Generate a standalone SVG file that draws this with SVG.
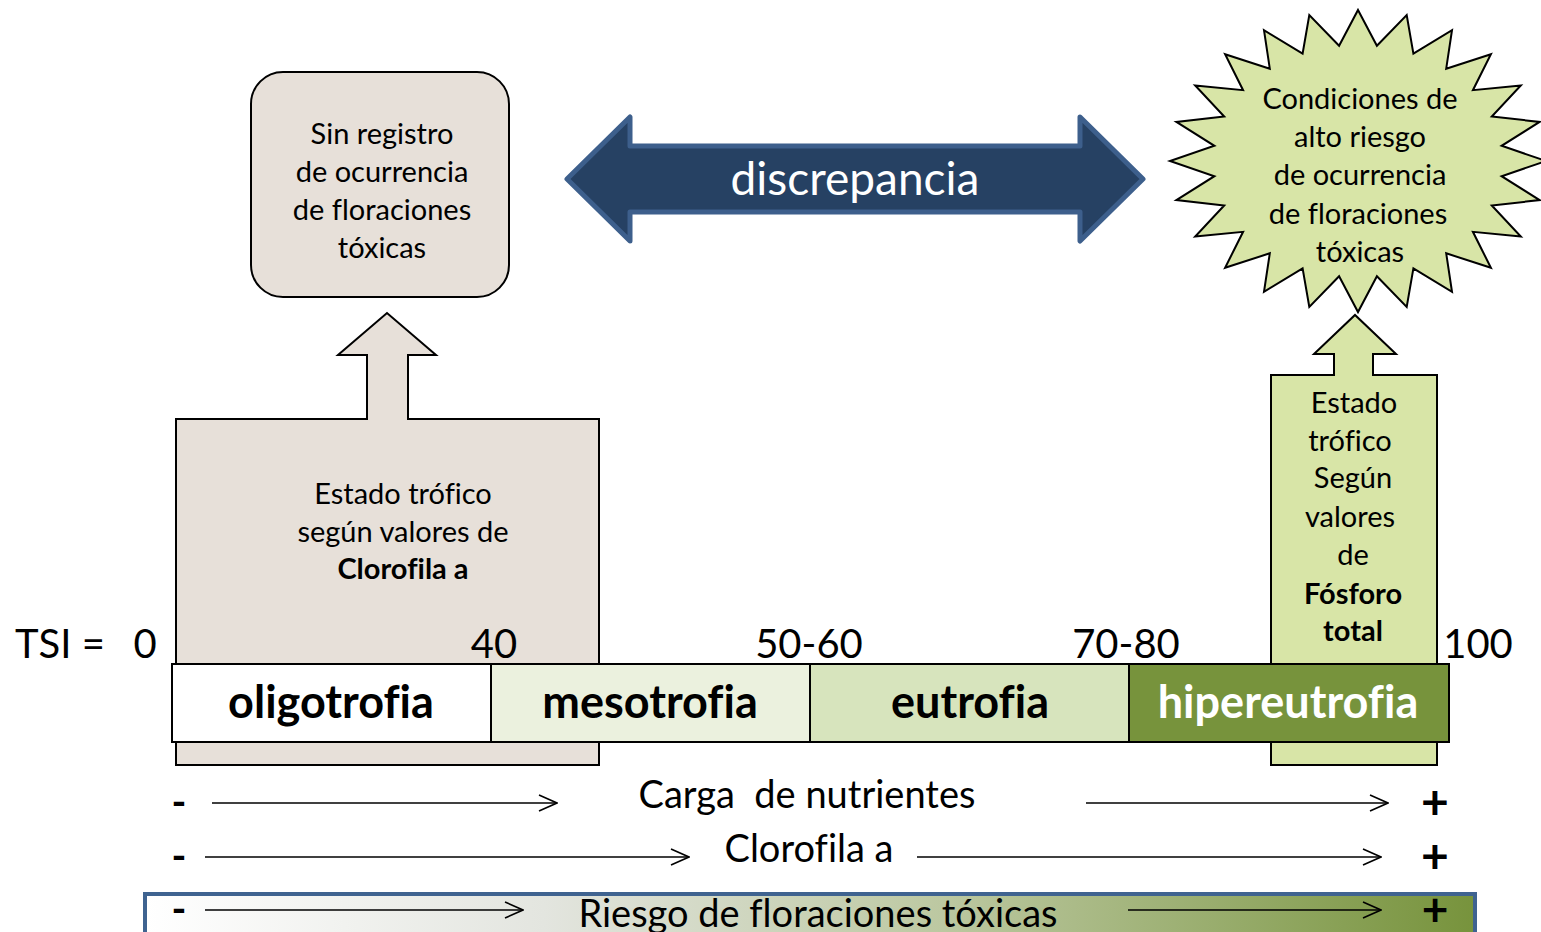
<svg xmlns="http://www.w3.org/2000/svg" width="1541" height="932" viewBox="0 0 1541 932">
<style>
text{font-family:Lato,"Open Sans",sans-serif;fill:#000;font-variant-ligatures:none;font-feature-settings:"liga" 0;white-space:pre}
.box{font-size:29px;text-anchor:middle}
.b{font-weight:bold}
.num{font-size:40px}
.lvl{font-size:45px;font-weight:bold;text-anchor:middle}
.row{font-size:38px;text-anchor:middle}
.sign{font-weight:bold;text-anchor:middle}
.ln{stroke:#000;stroke-width:1.6;fill:none}
.seg{stroke:#000;stroke-width:2}
</style>
<defs>
<marker id="chev" viewBox="0 0 20 20" refX="19" refY="10" markerWidth="20" markerHeight="20" markerUnits="userSpaceOnUse" orient="auto">
<path d="M1,2 L19,10 L1,18" fill="none" stroke="#000" stroke-width="1.6"/>
</marker>
<linearGradient id="risk" x1="0" y1="0" x2="1" y2="0">
<stop offset="0" stop-color="#FFFFFF"/>
<stop offset="0.3" stop-color="#E3E5DF"/>
<stop offset="0.6" stop-color="#BCC8A1"/>
<stop offset="1" stop-color="#77933C"/>
</linearGradient>
</defs>

<g id="clorofila-box">
<path d="M176,419 H367 V355 H338 L387,313 L436,355 H408 V419 H599 V765 H176 Z" fill="#E7E0D9" stroke="#000" stroke-width="2"/>
<text class="box" x="403" y="504">Estado trófico</text>
<text class="box" x="403" y="542">según valores de</text>
<text class="box b" x="403" y="579">Clorofila a</text>
</g>

<g id="fosforo-box">
<path d="M1271,375 H1334 V354 H1314 L1355,315 L1396,354 H1373 V375 H1437 V765 H1271 Z" fill="#D8E5A7" stroke="#000" stroke-width="2"/>
<text class="box" x="1354" y="413">Estado</text>
<text class="box" x="1350" y="451">trófico</text>
<text class="box" x="1353" y="488">Según</text>
<text class="box" x="1350" y="527">valores</text>
<text class="box" x="1353" y="565">de</text>
<text class="box b" x="1353" y="604">Fósforo</text>
<text class="box b" x="1353" y="641">total</text>
</g>

<g id="sin-registro">
<rect x="251" y="72" width="258" height="225" rx="32" fill="#E7E0D9" stroke="#000" stroke-width="2"/>
<text class="box" x="382" y="144">Sin registro</text>
<text class="box" x="382" y="182">de ocurrencia</text>
<text class="box" x="382" y="220">de floraciones</text>
<text class="box" x="382" y="258">tóxicas</text>
</g>

<g id="discrepancia">
<polygon points="567,179 630,117 630,146 1080,146 1080,117 1143,179 1080,241 1080,212 630,212 630,241" fill="#264163" stroke="#3D5F8C" stroke-width="5" stroke-linejoin="round"/>
<text x="855" y="195" font-size="46" text-anchor="middle" style="fill:#FFFFFF">discrepancia</text>
</g>

<g id="alto-riesgo">
<polygon points="1358,10 1376.9,45.7 1406.7,15.1 1413.4,53.6 1452,30.2 1446.2,68.7 1490.9,54.2 1472.9,90.2 1520.8,85.5 1491.8,116.5 1539.6,121.9 1501.6,145.8 1546,161 1501.6,176.2 1539.6,200.1 1491.8,205.5 1520.8,236.5 1472.9,231.8 1490.9,267.8 1446.2,253.3 1452,291.8 1413.4,268.4 1406.7,306.9 1376.9,276.3 1358,312 1339.1,276.3 1309.3,306.9 1302.6,268.4 1264,291.8 1269.8,253.3 1225.1,267.8 1243.1,231.8 1195.2,236.5 1224.2,205.5 1176.4,200.1 1214.4,176.2 1170,161 1214.4,145.8 1176.4,121.9 1224.2,116.5 1195.2,85.5 1243.1,90.2 1225.1,54.2 1269.8,68.7 1264,30.2 1302.6,53.6 1309.3,15.1 1339.1,45.7" fill="#D8E5A7" stroke="#000" stroke-width="2"/>
<text class="box" x="1360" y="109">Condiciones de</text>
<text class="box" x="1360" y="147">alto riesgo</text>
<text class="box" x="1360" y="185">de ocurrencia</text>
<text class="box" x="1358" y="224">de floraciones</text>
<text class="box" x="1360" y="262">tóxicas</text>
</g>

<g id="escala">
<rect class="seg" x="172" y="664" width="319" height="78" fill="#FFFFFF"/>
<rect class="seg" x="491" y="664" width="319" height="78" fill="#EBF1DE"/>
<rect class="seg" x="810" y="664" width="319" height="78" fill="#D7E4BD"/>
<rect class="seg" x="1129" y="664" width="320" height="78" fill="#77933C"/>
<text class="lvl" x="331" y="718">oligotrofia</text>
<text class="lvl" x="650" y="718">mesotrofia</text>
<text class="lvl" x="970" y="718">eutrofia</text>
<text class="lvl" x="1288" y="718" style="fill:#FFFFFF">hipereutrofia</text>
<text class="num" x="15" y="658">TSI =</text>
<text class="num" x="145" y="658" text-anchor="middle">0</text>
<text class="num" x="494" y="658" text-anchor="middle">40</text>
<text class="num" x="809" y="658" text-anchor="middle">50-60</text>
<text class="num" x="1126" y="658" text-anchor="middle">70-80</text>
<text class="num" x="1478" y="658" text-anchor="middle">100</text>
</g>

<g id="riesgo-bar">
<rect x="145" y="894" width="1330" height="50" fill="url(#risk)" stroke="#3F6390" stroke-width="4"/>
</g>

<g id="connectors">
<line class="ln" x1="212" y1="803" x2="557" y2="803" marker-end="url(#chev)"/>
<line class="ln" x1="1086" y1="803" x2="1388" y2="803" marker-end="url(#chev)"/>
<line class="ln" x1="205" y1="857" x2="689" y2="857" marker-end="url(#chev)"/>
<line class="ln" x1="917" y1="857" x2="1381" y2="857" marker-end="url(#chev)"/>
<line class="ln" x1="205" y1="910" x2="523" y2="910" marker-end="url(#chev)"/>
<line class="ln" x1="1128" y1="910" x2="1381" y2="910" marker-end="url(#chev)"/>
</g>

<g id="filas">
<text class="row" x="807" y="808">Carga  de nutrientes</text>
<text class="row" x="809" y="862">Clorofila a</text>
<text class="row" x="818" y="927">Riesgo de floraciones tóxicas</text>
<text class="sign" x="179" y="816" font-size="40">-</text>
<text class="sign" x="179" y="870" font-size="40">-</text>
<text class="sign" x="179" y="923" font-size="40">-</text>
<text class="sign" x="1435" y="819" font-size="48">+</text>
<text class="sign" x="1435" y="873" font-size="48">+</text>
<text class="sign" x="1435" y="926" font-size="46">+</text>
</g>
</svg>
